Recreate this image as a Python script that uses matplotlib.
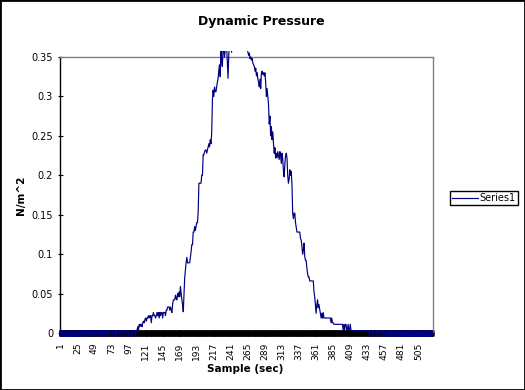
import matplotlib
matplotlib.use("Agg")
import matplotlib.pyplot as plt
from matplotlib.patches import Rectangle
from matplotlib.ticker import FixedLocator

plt.rcParams['font.family'] = ['DejaVu Sans']

# ---- data (N/m^2 per sample) ----
pressure_start = [  # samples 1-108
    0.003, -0.005, 0.003, 0.003, -0.005, 0.003, -0.005, 0.003, 0.003, -0.005, 0.003, 0.003,
    -0.005, 0.003, -0.005, 0.003, 0.003, -0.005, 0.003, 0.003, -0.005, 0.003, -0.005, 0.003,
    0.003, -0.005, 0.003, 0.003, -0.005, 0.003, 0.003, -0.005, 0.003, -0.005, 0.003, 0.003,
    -0.005, 0.003, 0.003, -0.005, 0.003, -0.005, 0.003, 0.003, -0.005, 0.003, 0.003, -0.005,
    0.003, -0.005, 0.003, 0.003, -0.005, 0.003, 0.003, -0.005, 0.003, -0.005, 0.003, 0.003,
    -0.005, 0.003, 0.003, -0.005, 0.003, 0.003, -0.005, 0.003, 0.003, -0.005, 0.003, 0.003,
    0.003, -0.005, 0.003, 0.003, 0.003, -0.005, 0.003, 0.003, -0.005, 0.003, 0.003, 0.003,
    -0.005, 0.003, 0.003, 0.003, -0.005, 0.003, 0.003, 0.003, -0.005, 0.003, 0.003, 0.003,
    -0.005, 0.003, 0.003, 0.003, 0.003, -0.005, 0.003, 0.003, 0.003, -0.005, 0.003, 0.003,
]
pressure_rise = [  # samples 109-214
    0.004, 0.008, 0.004, 0.011, 0.008, 0.011, 0.011, 0.008, 0.013, 0.015, 0.013, 0.017,
    0.019, 0.015, 0.019, 0.019, 0.022, 0.019, 0.022, 0.022, 0.013, 0.022, 0.022, 0.026,
    0.022, 0.022, 0.019, 0.022, 0.026, 0.022, 0.026, 0.019, 0.026, 0.022, 0.026, 0.026,
    0.019, 0.026, 0.026, 0.026, 0.022, 0.029, 0.029, 0.033, 0.033, 0.033, 0.029, 0.033,
    0.029, 0.026, 0.036, 0.042, 0.042, 0.042, 0.048, 0.044, 0.042, 0.050, 0.046, 0.052,
    0.046, 0.059, 0.050, 0.042, 0.036, 0.027, 0.050, 0.070, 0.080, 0.089, 0.096, 0.089,
    0.089, 0.089, 0.089, 0.096, 0.103, 0.112, 0.112, 0.128, 0.128, 0.135, 0.130, 0.135,
    0.140, 0.140, 0.154, 0.190, 0.190, 0.190, 0.190, 0.200, 0.200, 0.226, 0.226, 0.230,
    0.232, 0.232, 0.228, 0.232, 0.236, 0.240, 0.236, 0.245, 0.240, 0.253,
]
pressure_peak = [  # samples 215-264
    0.295, 0.308, 0.300, 0.312, 0.306, 0.306, 0.312, 0.318, 0.323, 0.333, 0.340, 0.325,
    0.358, 0.345, 0.338, 0.360, 0.362, 0.350, 0.358, 0.360, 0.365, 0.345, 0.323, 0.352,
    0.365, 0.370, 0.375, 0.356, 0.372, 0.380, 0.378, 0.385, 0.390, 0.380, 0.386, 0.392,
    0.384, 0.390, 0.382, 0.388, 0.380, 0.375, 0.382, 0.370, 0.376, 0.368, 0.372, 0.362,
    0.366, 0.360,
]
pressure_fall = [  # samples 265-433
    0.356, 0.352, 0.355, 0.348, 0.350, 0.346, 0.348, 0.342, 0.340, 0.338, 0.332, 0.336,
    0.326, 0.330, 0.322, 0.318, 0.312, 0.322, 0.310, 0.330, 0.332, 0.328, 0.330, 0.326,
    0.330, 0.317, 0.300, 0.310, 0.300, 0.290, 0.265, 0.275, 0.250, 0.262, 0.245, 0.255,
    0.240, 0.228, 0.235, 0.222, 0.228, 0.222, 0.230, 0.225, 0.220, 0.230, 0.225, 0.215,
    0.228, 0.220, 0.205, 0.198, 0.215, 0.225, 0.228, 0.222, 0.200, 0.190, 0.195, 0.207,
    0.200, 0.205, 0.188, 0.152, 0.145, 0.152, 0.152, 0.140, 0.134, 0.128, 0.128, 0.128,
    0.128, 0.128, 0.120, 0.118, 0.110, 0.100, 0.105, 0.114, 0.097, 0.092, 0.092, 0.082,
    0.075, 0.071, 0.071, 0.066, 0.066, 0.066, 0.066, 0.066, 0.066, 0.052, 0.046, 0.036,
    0.025, 0.036, 0.042, 0.032, 0.036, 0.030, 0.025, 0.019, 0.025, 0.019, 0.026, 0.019,
    0.019, 0.019, 0.019, 0.019, 0.019, 0.019, 0.019, 0.019, 0.019, 0.013, 0.019, 0.013,
    0.013, 0.011, 0.011, 0.011, 0.011, 0.011, 0.011, 0.011, 0.011, 0.011, 0.011, 0.011,
    0.011, 0.011, 0.004, 0.011, 0.004, 0.011, 0.011, 0.004, 0.004, 0.011, 0.004, 0.004,
    0.011, 0.004, 0.003, 0.003, 0.003, 0.003, 0.003, 0.003, 0.003, 0.003, 0.003, 0.003,
    0.003, 0.003, 0.003, 0.003, 0.003, 0.003, 0.003, 0.003, 0.003, 0.003, 0.003, 0.003,
    0.003,
]
pressure_tail = [  # samples 434-525
    0.003, 0.003, -0.005, 0.003, 0.003, 0.003, 0.003, -0.005, 0.003, 0.003, 0.003, 0.003,
    -0.005, 0.003, 0.003, 0.003, -0.005, 0.003, 0.003, 0.003, -0.005, 0.003, 0.003, -0.005,
    0.003, 0.003, 0.003, -0.005, 0.003, 0.003, -0.005, 0.003, -0.005, 0.003, 0.003, -0.005,
    0.003, 0.003, -0.005, 0.003, -0.005, 0.003, 0.003, -0.005, 0.003, -0.005, 0.003, -0.005,
    0.003, -0.005, 0.003, -0.005, 0.003, 0.003, -0.005, 0.003, -0.005, 0.003, -0.005, 0.003,
    -0.005, 0.003, -0.005, 0.003, -0.005, 0.003, -0.005, 0.003, -0.005, 0.003, -0.005, 0.003,
    -0.005, 0.003, -0.005, 0.003, -0.005, 0.003, -0.005, 0.003, -0.005, 0.003, -0.005, 0.003,
    -0.005, 0.003, -0.005, 0.003, -0.005, 0.003, -0.005, 0.003,
]
pressure = pressure_start + pressure_rise + pressure_peak + pressure_fall + pressure_tail
samples = list(range(1, len(pressure) + 1))

x_tick_labels = ["1", "25", "49", "73", "97", "121", "145", "169", "193", "217", "241",
                 "265", "289", "313", "337", "361", "385", "409", "433", "457", "481", "505"]
y_ticks = [0, 0.05, 0.1, 0.15, 0.2, 0.25, 0.3, 0.35]
y_tick_labels = ["0", "0.05", "0.1", "0.15", "0.2", "0.25", "0.3", "0.35"]

title = "Dynamic Pressure"
x_label = "Sample (sec)"
y_label = "N/m^2"
series_name = "Series1"

# ---- figure ----
W, H = 525, 390
fig = plt.figure(figsize=(W / 100, H / 100), dpi=100)
fig.patch.set_facecolor("white")
ax = fig.add_axes([60 / W, 1 - 333 / H, 373 / W, 276 / H])

n = len(samples)
line, = ax.plot(samples, pressure, color="#000080", lw=0.85, label=series_name, zorder=3)
line.set_clip_path(Rectangle((0, -0.016), 1, 1.038, transform=ax.transAxes))

ax.set_xlim(0.5, n + 0.5)
ax.set_ylim(0, 0.35)

ax.set_xticks([int(s) for s in x_tick_labels])
ax.set_xticklabels(x_tick_labels, rotation=90, fontsize=6.6)
ax.xaxis.set_minor_locator(FixedLocator([s - 0.5 for s in samples] + [n + 0.5]))
ax.tick_params(axis="x", which="both", direction="inout", length=5, width=1.8,
               color="black", pad=4.2)
ax.set_yticks(y_ticks)
ax.set_yticklabels(y_tick_labels, fontsize=7)
ax.tick_params(axis="y", direction="inout", length=3.6, width=0.8, color="black", pad=3.2)

for side in ("top", "right"):
    ax.spines[side].set_color("#808080")
    ax.spines[side].set_linewidth(1.0)
for side in ("left", "bottom"):
    ax.spines[side].set_color("black")
    ax.spines[side].set_linewidth(1.0)

fig.text(261 / W, 1 - 22 / H, title, ha="center", va="center", fontsize=9, fontweight="bold")
fig.text(245 / W, 1 - 369 / H, x_label, ha="center", va="center", fontsize=7.5, fontweight="bold")
fig.text(21 / W, 1 - 195 / H, y_label, ha="center", va="center", fontsize=7.5,
         fontweight="bold", rotation=90)

leg = fig.legend(handles=[line], labels=[series_name], loc="center left",
                 bbox_to_anchor=(450 / W, 1 - 198 / H), fontsize=7, frameon=True,
                 fancybox=False, borderpad=0.25, handlelength=2.6, handletextpad=0.2,
                 borderaxespad=0, framealpha=1)
leg.get_frame().set_edgecolor("black")
leg.get_frame().set_linewidth(1.0)

fig.patches.append(Rectangle((0, 0), 1, 1, transform=fig.transFigure, fill=False,
                             edgecolor="black", lw=2.0))

fig.savefig("out.png", dpi=100, facecolor="white")
